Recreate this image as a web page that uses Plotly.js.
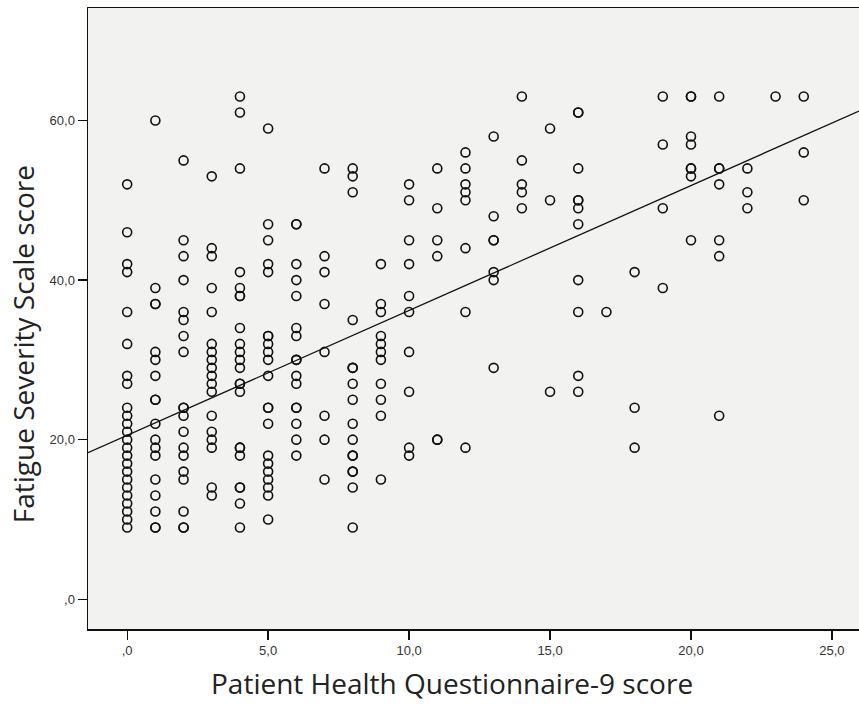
<!DOCTYPE html>
<html>
<head>
<meta charset="utf-8">
<script src="https://cdn.plot.ly/plotly-3.0.1.min.js"></script>
<style>html,body{margin:0;padding:0;background:#fff;}#chart{width:859px;height:704px;}</style>
</head>
<body>
<div id="chart"></div>
<script>
// PHQ-9 score (x) values that have observations
const phqScores = [0,1,2,3,4,5,6,7,8,9,10,11,12,13,14,15,16,17,18,19,20,21,22,23,24];
// FSS scores observed at each PHQ-9 score (same order as phqScores)
const fssColumns = [
  [9,10,11,12,13,14,15,16,17,18,19,20,21,22,23,24,27,28,32,36,41,42,46,52],
  [60,39,37,37,31,30,28,25,25,22,20,19,18,15,13,11,9,9],
  [55,45,43,40,36,35,33,31,24,24,23,21,19,18,16,15,11,9,9],
  [53,44,43,39,36,32,31,30,29,28,27,26,23,21,20,19,14,13],
  [63,61,54,41,39,38,38,34,32,31,30,29,27,27,26,19,19,18,14,14,12,9],
  [59,47,45,42,41,33,33,32,31,30,28,24,24,22,18,17,16,15,14,13,10],
  [47,47,42,40,38,34,33,30,30,28,27,24,24,22,20,18],
  [54,43,41,37,31,23,20,15],
  [54,53,51,35,29,29,27,25,22,20,18,18,16,16,14,9],
  [42,37,36,33,32,31,30,27,25,23,15],
  [52,50,45,42,38,36,31,26,19,18],
  [54,49,45,43,20,20],
  [56,54,52,51,50,44,36,19],
  [58,48,45,45,41,40,29],
  [63,55,52,51,49],
  [59,50,26],
  [61,61,54,50,50,49,47,40,36,28,26],
  [36],
  [41,24,19],
  [63,57,49,39],
  [63,63,58,57,54,54,53,45],
  [63,54,54,52,45,43,23],
  [54,51,49],
  [63],
  [63,56,50]
];
// Linear fit line
const fitIntercept = 20.55;
const fitSlope = 1.565;
// Tick labels and titles
const xTickVals = [0,5,10,15,20,25];
const xTickText = [",0","5,0","10,0","15,0","20,0","25,0"];
const yTickVals = [0,20,40,60];
const yTickText = [",0","20,0","40,0","60,0"];
const xTitle = 'Patient Health Questionnaire-9 score';
const yTitle = 'Fatigue Severity Scale score';

const xRange = [-1.39, 25.96];
const yRange = [-3.73, 74.1];

const px = [], py = [];
phqScores.forEach((p, i) => {
  fssColumns[i].forEach(v => { px.push(p); py.push(v); });
});

const lineX = xRange.slice();
const lineY = lineX.map(x => fitIntercept + fitSlope * x);

const traces = [
  {
    type: 'scatter', mode: 'markers', x: px, y: py,
    marker: {symbol: 'circle-open', size: 9, color: '#111', line: {width: 1.6, color: '#111'}},
    hoverinfo: 'x+y', showlegend: false
  },
  {
    type: 'scatter', mode: 'lines', x: lineX, y: lineY,
    line: {color: '#111', width: 1.3}, showlegend: false, hoverinfo: 'skip'
  }
];

const titleFont = {family: 'Open Sans, sans-serif', size: 28, color: '#222'};
const layout = {
  width: 859, height: 704,
  margin: {l: 88, r: 0, t: 8, b: 75},
  paper_bgcolor: '#ffffff',
  plot_bgcolor: '#f2f2f1',
  showlegend: false,
  xaxis: {
    range: xRange, tickmode: 'array', tickvals: xTickVals, ticktext: xTickText,
    ticks: 'outside', ticklen: 9, tickwidth: 1.3, tickcolor: '#111',
    showline: true, linecolor: '#111', linewidth: 1.5, mirror: true,
    showgrid: false, zeroline: false,
    tickfont: {family: 'Liberation Sans, Arial, sans-serif', size: 13, color: '#333'}
  },
  yaxis: {
    range: yRange, tickmode: 'array', tickvals: yTickVals, ticktext: yTickText,
    ticks: 'outside', ticklen: 9, tickwidth: 1.3, tickcolor: '#111',
    showline: true, linecolor: '#111', linewidth: 1.5, mirror: false,
    showgrid: false, zeroline: false,
    tickfont: {family: 'Liberation Sans, Arial, sans-serif', size: 13, color: '#333'}
  },
  annotations: [
    {text: xTitle, xref: 'paper', yref: 'paper', x: 0.472, y: -0.087,
     xanchor: 'center', yanchor: 'middle', showarrow: false, font: titleFont},
    {text: yTitle, xref: 'paper', yref: 'paper', x: -0.084, y: 0.459, textangle: -90,
     xanchor: 'center', yanchor: 'middle', showarrow: false, font: titleFont}
  ]
};

Plotly.newPlot('chart', traces, layout, {displayModeBar: false, staticPlot: true});
</script>
</body>
</html>
